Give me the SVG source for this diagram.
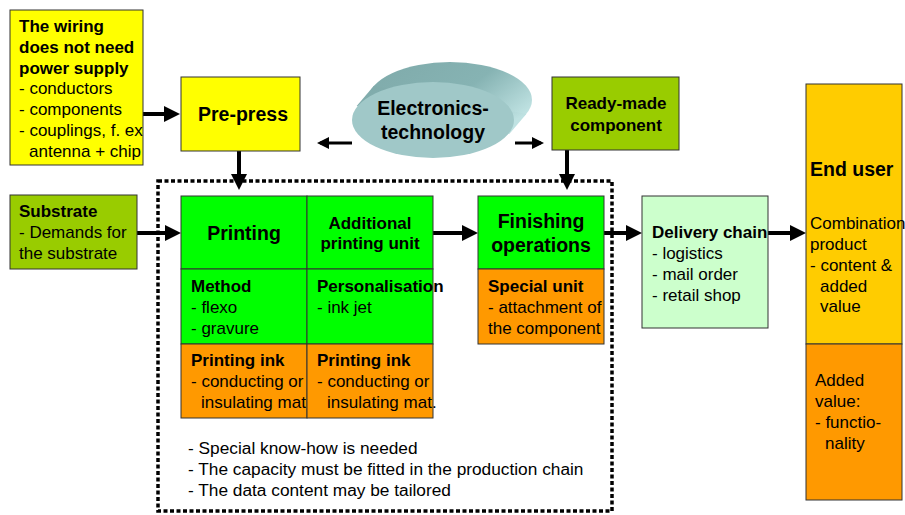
<svg xmlns="http://www.w3.org/2000/svg" width="905" height="515" viewBox="0 0 905 515">
<defs>
<style>
text{font-family:"Liberation Sans",Arial,sans-serif;font-size:17px;fill:#000}
.b{font-weight:bold}
.h{font-weight:bold;font-size:19.5px}
.c{text-anchor:middle}
.n{font-size:17.3px}
.box{stroke:#333;stroke-width:1}
.ln{stroke:#000;stroke-width:4;fill:none}
.tl{stroke:#000;stroke-width:3;fill:none}
</style>
<marker id="ah" markerWidth="4" markerHeight="4" refX="3" refY="2" orient="auto" markerUnits="strokeWidth">
<path d="M0,0 L4,2 L0,4 z" fill="#000"/>
</marker>
<marker id="ah2" markerWidth="4" markerHeight="4" refX="3" refY="2" orient="auto" markerUnits="strokeWidth">
<path d="M0,0 L4,2 L0,4 z" fill="#000"/>
</marker>
<linearGradient id="bg" x1="0" y1="0" x2="1" y2="0.6">
<stop offset="0" stop-color="#7FAAAA"/>
<stop offset="0.6" stop-color="#86B3B3"/>
<stop offset="1" stop-color="#BFE2E2"/>
</linearGradient>
</defs>

<g id="connectors">
<line class="ln" x1="143" y1="114" x2="176" y2="114" marker-end="url(#ah)"/>
<line class="tl" x1="352" y1="143" x2="320" y2="143" marker-end="url(#ah2)"/>
<line class="tl" x1="515" y1="143" x2="541" y2="143" marker-end="url(#ah2)"/>
<line class="ln" x1="239" y1="151" x2="239" y2="186" marker-end="url(#ah)"/>
<line class="ln" x1="567" y1="150" x2="567" y2="186" marker-end="url(#ah)"/>
<line class="ln" x1="137" y1="233" x2="177" y2="233" marker-end="url(#ah)"/>
<line class="ln" x1="433" y1="233" x2="474" y2="233" marker-end="url(#ah)"/>
<line class="ln" x1="604" y1="233" x2="638" y2="233" marker-end="url(#ah)"/>
<line class="ln" x1="768" y1="233" x2="802" y2="233" marker-end="url(#ah)"/>
</g>

<g id="dotted-frame">
<rect x="158" y="181" width="454" height="330" fill="none" stroke="#000" stroke-width="3.5" stroke-dasharray="4 2.5"/>
</g>

<g id="wiring">
<rect class="box" x="10" y="10" width="133" height="155" fill="#FFFF00"/>
<text class="b" x="19" y="32">The wiring</text>
<text class="b" x="19" y="53">does not need</text>
<text class="b" x="19" y="74">power supply</text>
<text x="19" y="94">- conductors</text>
<text x="19" y="115">- components</text>
<text x="19" y="136">- couplings, f. ex</text>
<text x="29" y="157">antenna + chip</text>
</g>

<g id="prepress">
<rect class="box" x="181" y="77" width="119" height="74" fill="#FFFF00"/>
<text class="h c" x="243" y="121">Pre-press</text>
</g>

<g id="electronics">
<ellipse cx="450" cy="100" rx="82" ry="38" fill="url(#bg)"/>
<polygon points="356.7,106.1 373.7,86.1 526.3,113.9 509.3,133.9" fill="url(#bg)"/>
<ellipse cx="433" cy="120" rx="81" ry="38" fill="#A0C8C8"/>
<text class="h c" x="433" y="115">Electronics-</text>
<text class="h c" x="433" y="139">technology</text>
</g>

<g id="readymade">
<rect class="box" x="552" y="77" width="127" height="73" fill="#99CC00"/>
<text class="b c" x="616" y="109">Ready-made</text>
<text class="b c" x="616" y="131">component</text>
</g>

<g id="substrate">
<rect class="box" x="10" y="195" width="127" height="74" fill="#99CC00"/>
<text class="b" x="19" y="217">Substrate</text>
<text x="19" y="238">- Demands for</text>
<text x="19" y="259">the substrate</text>
</g>

<g id="printing">
<rect class="box" x="181" y="196" width="126" height="73" fill="#00FF00"/>
<text class="h c" x="244" y="240">Printing</text>
<rect class="box" x="181" y="269" width="126" height="75" fill="#00FF00"/>
<text class="b" x="191" y="292">Method</text>
<text x="191" y="313">- flexo</text>
<text x="191" y="334">- gravure</text>
<rect class="box" x="181" y="344" width="126" height="74" fill="#FF9900"/>
<text class="b" x="191" y="366">Printing ink</text>
<text x="191" y="387">- conducting or</text>
<text x="201" y="408">insulating mat</text>
</g>

<g id="additional">
<rect class="box" x="307" y="196" width="126" height="73" fill="#00FF00"/>
<text class="b c" x="370" y="229">Additional</text>
<text class="b c" x="370" y="249">printing unit</text>
<rect class="box" x="307" y="269" width="126" height="75" fill="#00FF00"/>
<text class="b" x="317" y="292">Personalisation</text>
<text x="317" y="313">- ink jet</text>
<rect class="box" x="307" y="344" width="126" height="74" fill="#FF9900"/>
<text class="b" x="317" y="366">Printing ink</text>
<text x="317" y="387">- conducting or</text>
<text x="327" y="408">insulating mat.</text>
</g>

<g id="finishing">
<rect class="box" x="478" y="196" width="126" height="73" fill="#00FF00"/>
<text class="h c" x="541" y="228">Finishing</text>
<text class="h c" x="541" y="252">operations</text>
<rect class="box" x="478" y="269" width="126" height="75" fill="#FF9900"/>
<text class="b" x="488" y="292">Special unit</text>
<text x="488" y="313">- attachment of</text>
<text x="488" y="334">the component</text>
</g>

<g id="delivery">
<rect class="box" x="642" y="196" width="126" height="132" fill="#CCFFCC"/>
<text class="b" x="652" y="238">Delivery chain</text>
<text x="652" y="259">- logistics</text>
<text x="652" y="280">- mail order</text>
<text x="652" y="301">- retail shop</text>
</g>

<g id="enduser">
<rect class="box" x="806" y="84" width="96" height="260" fill="#FFCC00"/>
<text class="h" x="810" y="176">End user</text>
<text x="810" y="229">Combination</text>
<text x="810" y="250">product</text>
<text x="810" y="271">- content &amp;</text>
<text x="820" y="292">added</text>
<text x="820" y="312">value</text>
<rect class="box" x="806" y="344" width="96" height="156" fill="#FF9900"/>
<text x="815" y="386">Added</text>
<text x="815" y="407">value:</text>
<text x="815" y="428">- functio-</text>
<text x="825" y="449">nality</text>
</g>

<g id="notes">
<text class="n" x="188" y="454">- Special know-how is needed</text>
<text class="n" x="188" y="475">- The capacity must be fitted in the production chain</text>
<text class="n" x="188" y="496">- The data content may be tailored</text>
</g>
</svg>
